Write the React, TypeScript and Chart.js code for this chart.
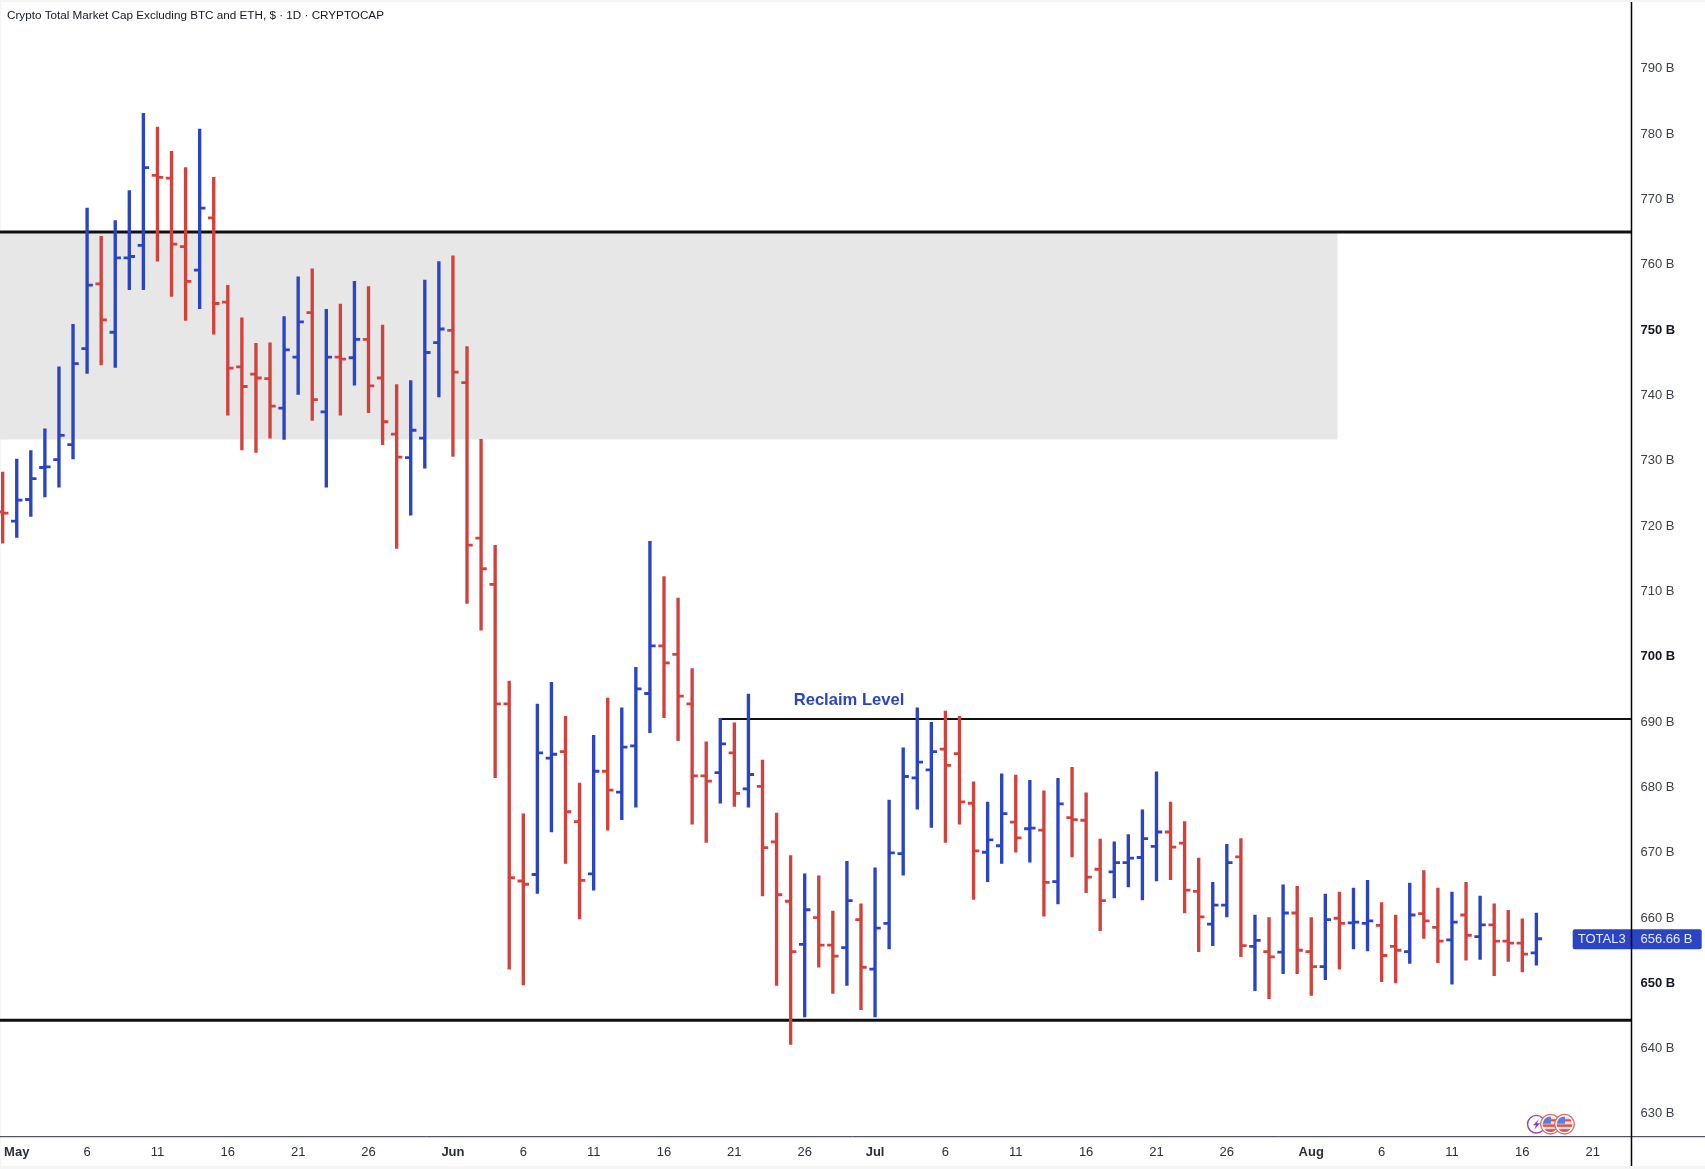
import React, { useEffect, useRef } from "react";
import { Chart, registerables } from "chart.js";

Chart.register(...registerables);

const chartTitle = "Crypto Total Market Cap Excluding BTC and ETH, $ · 1D · CRYPTOCAP";

// Daily bars, index 0 = 30 Apr, index 109 = 17 Aug
const opens = [
  722.0, 720.6, 723.9, 728.8, 730.0, 732.3, 747.0, 756.9, 749.5, 760.9,
  762.8, 773.5, 773.1, 762.6, 759.0, 767.0, 754.1, 744.2, 743.1, 742.4,
  737.9, 745.7, 752.5, 737.3, 745.7, 745.6, 748.4, 742.5, 733.9, 730.3,
  733.3, 747.9, 749.8, 741.8, 718.0, 710.9, 692.6, 665.5, 666.5, 684.3,
  685.3, 674.6, 666.6, 682.3, 679.1, 686.2, 694.2, 701.5, 700.2, 692.6,
  681.6, 682.1, 685.1, 679.6, 680.0, 671.5, 662.4, 655.8, 659.9, 655.7,
  655.3, 659.6, 652.0, 659.0, 669.7, 681.3, 682.5, 685.7, 685.0, 677.4,
  669.9, 670.9, 674.5, 673.5, 673.3, 665.4, 675.2, 674.8, 667.3, 666.9,
  668.3, 669.1, 670.8, 673.0, 671.3, 663.9, 658.9, 661.8, 669.2, 655.5,
  654.7, 654.6, 660.6, 654.7, 652.4, 659.8, 659.1, 659.0, 658.7, 655.5,
  654.7, 660.5, 658.4, 656.5, 660.3, 657.0, 658.8, 656.3, 656.0, 654.5,
];
const highs = [
  728.1, 730.1, 731.4, 734.7, 744.2, 750.7, 768.5, 764.2, 766.6, 771.2,
  783.0, 780.9, 777.2, 774.7, 780.6, 773.2, 756.7, 751.7, 747.8, 747.9,
  751.9, 758.0, 759.2, 753.0, 753.8, 757.3, 756.5, 750.6, 741.5, 742.1,
  757.5, 760.3, 761.2, 747.3, 733.1, 716.9, 696.1, 675.8, 692.6, 695.9,
  690.7, 680.5, 687.8, 693.5, 692.0, 698.2, 717.5, 712.1, 708.8, 698.0,
  686.8, 690.4, 689.7, 694.1, 684.0, 675.9, 669.4, 666.6, 666.3, 660.9,
  668.5, 662.0, 667.5, 677.9, 685.9, 692.0, 689.8, 691.5, 690.7, 680.7,
  677.6, 681.9, 681.7, 680.9, 679.3, 681.2, 682.9, 679.0, 671.9, 671.5,
  672.6, 676.4, 682.2, 677.6, 674.6, 669.0, 665.3, 671.1, 672.0, 660.3,
  659.9, 664.9, 664.7, 659.9, 663.5, 663.8, 664.4, 665.6, 662.2, 660.3,
  665.2, 667.1, 664.4, 663.8, 665.3, 663.2, 662.0, 661.0, 659.7, 660.6,
];
const lows = [
  717.2, 718.1, 721.3, 724.3, 725.8, 730.1, 743.2, 744.5, 744.1, 756.0,
  756.0, 760.4, 755.0, 751.3, 753.1, 749.2, 736.8, 731.5, 731.1, 733.3,
  733.1, 740.0, 736.0, 725.8, 736.8, 741.4, 737.2, 732.3, 716.4, 721.5,
  728.7, 739.6, 730.5, 708.0, 703.9, 681.3, 652.0, 649.6, 663.6, 673.0,
  668.2, 659.7, 664.1, 673.3, 674.9, 676.8, 688.2, 690.5, 687.0, 674.2,
  671.4, 677.4, 676.9, 676.8, 663.2, 649.5, 640.5, 644.7, 652.3, 648.3,
  649.5, 645.8, 644.7, 655.1, 666.4, 676.5, 673.7, 671.4, 674.2, 662.7,
  665.4, 668.2, 669.9, 668.4, 660.1, 662.0, 669.2, 663.7, 657.9, 662.9,
  664.6, 662.6, 665.5, 665.7, 660.6, 654.7, 655.6, 660.0, 653.9, 648.7,
  647.5, 651.3, 651.3, 648.0, 650.4, 652.0, 655.1, 654.8, 650.1, 649.9,
  652.9, 656.7, 653.0, 649.7, 653.4, 653.5, 651.0, 653.2, 651.6, 652.6,
];
const closes = [
  721.8, 723.8, 727.1, 728.9, 733.7, 744.7, 756.7, 751.4, 760.9, 761.1,
  774.7, 773.2, 763.0, 757.3, 768.5, 753.9, 744.0, 741.2, 742.5, 738.2,
  746.8, 751.1, 739.2, 745.7, 745.4, 748.4, 741.3, 735.8, 730.4, 734.5,
  746.4, 750.0, 743.4, 716.9, 713.3, 692.6, 666.0, 665.0, 685.1, 684.9,
  676.1, 665.6, 682.3, 679.4, 686.0, 694.9, 701.5, 698.9, 693.8, 681.6,
  680.8, 686.5, 678.9, 681.8, 670.6, 663.4, 654.7, 661.1, 655.7, 654.0,
  662.5, 652.3, 658.3, 669.8, 681.5, 683.7, 685.3, 683.2, 677.6, 670.1,
  671.8, 675.8, 672.1, 673.6, 665.3, 677.3, 674.9, 666.1, 662.5, 668.3,
  669.0, 672.0, 673.0, 670.7, 664.1, 660.0, 661.8, 668.3, 655.6, 656.4,
  653.9, 660.6, 654.9, 652.4, 659.6, 659.0, 659.2, 659.4, 654.1, 654.9,
  660.3, 659.4, 656.3, 659.2, 657.2, 658.8, 656.3, 656.0, 654.3, 656.66,
];

const yTickValues = [630, 640, 650, 660, 670, 680, 690, 700, 710, 720, 730, 740, 750, 760, 770, 780, 790];
const yBoldTicks = [650, 700, 750];
const xTickValues = [1, 6, 11, 16, 21, 26, 32, 37, 42, 47, 52, 57, 62, 67, 72, 77, 82, 87, 93, 98, 103, 108, 113];
const xTickLabels = ["May", "6", "11", "16", "21", "26", "Jun", "6", "11", "16", "21", "26", "Jul", "6", "11", "16", "21", "26", "Aug", "6", "11", "16", "21"];
const xBoldLabels = ["May", "Jun", "Jul", "Aug"];

const supplyTop = 764.85;
const supplyBottom = 733.1;
const supplyEndIndex = 94.88;
const floorLevel = 644.2;
const reclaimLevel = 690.3;
const reclaimStartIndex = 51;
const reclaimLabel = "Reclaim Level";
const reclaimLabelIndex = 60.15;
const lastPrice = 656.66;
const symbolLabel = "TOTAL3";
const eventIndexes = [109, 110, 111];

const xMin = -0.19;
const xMax = 115.76;
const yMin = 626.36;
const yMax = 800.36;

const BLUE = "#2A44C4";
const RED = "#D2423D";
const FONT = '"Liberation Sans", Arial, sans-serif';

const indexes = opens.map((_, i) => i);
const barColors = indexes.map((i) => (closes[i] >= opens[i] ? BLUE : RED));
const tickShift = 0.2;

const fmtPrice = (v: number) => `${v} B`;

const overlayPlugin = {
  id: "overlay",
  beforeDraw(chart: any) {
    const { ctx, width, height } = chart;
    ctx.save();
    ctx.fillStyle = "#F5F5F5";
    ctx.fillRect(0, 0, width, height);
    ctx.fillStyle = "#FFFFFF";
    ctx.fillRect(1, 2, width - 1, 1164);
    ctx.restore();
  },
  afterDraw(chart: any) {
    const { ctx, chartArea, scales } = chart;
    const x = scales.x;
    const y = scales.y;
    ctx.save();

    // axis frame
    ctx.strokeStyle = "#2A2E39";
    ctx.lineWidth = 1;
    ctx.beginPath();
    ctx.moveTo(0, chartArea.bottom);
    ctx.lineTo(chart.width, chartArea.bottom);
    ctx.stroke();

    // title
    ctx.fillStyle = "#131722";
    ctx.font = `11.7px ${FONT}`;
    ctx.textAlign = "left";
    ctx.textBaseline = "middle";
    ctx.fillText(chartTitle, 7, 16);

    // reclaim label
    ctx.fillStyle = "#2A44C4";
    ctx.font = `bold 16.6px ${FONT}`;
    ctx.textAlign = "center";
    ctx.fillText(reclaimLabel, x.getPixelForValue(reclaimLabelIndex), y.getPixelForValue(reclaimLevel) - 19);

    // events
    const ey = chartArea.bottom - 12.5;
    eventIndexes.forEach((idx, n) => {
      const ex = x.getPixelForValue(idx);
      if (n === 0) {
        ctx.beginPath();
        ctx.arc(ex, ey, 8.8, 0, Math.PI * 2);
        ctx.fillStyle = "#FFFFFF";
        ctx.fill();
        ctx.strokeStyle = "#8E3FC0";
        ctx.lineWidth = 1.4;
        ctx.stroke();
        ctx.fillStyle = "#8E3FC0";
        ctx.beginPath();
        ctx.moveTo(ex + 2.5, ey - 5);
        ctx.lineTo(ex - 3.5, ey + 1);
        ctx.lineTo(ex - 0.3, ey + 1);
        ctx.lineTo(ex - 2.2, ey + 5.5);
        ctx.lineTo(ex + 3.8, ey - 1);
        ctx.lineTo(ex + 0.6, ey - 1);
        ctx.closePath();
        ctx.fill();
      } else {
        ctx.save();
        ctx.beginPath();
        ctx.arc(ex, ey, 9.8, 0, Math.PI * 2);
        ctx.fillStyle = "#FFFFFF";
        ctx.fill();
        ctx.strokeStyle = "#DE6A64";
        ctx.lineWidth = 1.4;
        ctx.stroke();
        ctx.beginPath();
        ctx.arc(ex, ey, 7.8, 0, Math.PI * 2);
        ctx.clip();
        ctx.fillStyle = "#F7DAD6";
        ctx.fillRect(ex - 9, ey - 9, 18, 18);
        ctx.fillStyle = "#D9534D";
        ctx.fillRect(ex - 9, ey + 0.2, 18, 2.4);
        ctx.fillRect(ex - 9, ey + 5, 18, 2.8);
        ctx.fillRect(ex, ey - 5, 9, 2.2);
        ctx.fillStyle = "#5C7DDC";
        ctx.fillRect(ex - 9, ey - 8, 9.5, 7.5);
        ctx.restore();
      }
    });

    // last price label
    const py = y.getPixelForValue(lastPrice);
    ctx.fillStyle = "#2A44C4";
    ctx.beginPath();
    ctx.roundRect(1572.7, py - 9.5, 129, 20, 2);
    ctx.fill();

    // axis divider
    ctx.strokeStyle = "#000000";
    ctx.lineWidth = 1.5;
    ctx.beginPath();
    ctx.moveTo(chartArea.right, 2);
    ctx.lineTo(chartArea.right, 1166);
    ctx.stroke();

    ctx.fillStyle = "#E8ECFA";
    ctx.font = `13px ${FONT}`;
    ctx.textAlign = "left";
    ctx.textBaseline = "middle";
    ctx.fillText(symbolLabel, 1577.7, py + 1);
    ctx.fillText(fmtPrice(lastPrice), 1640.5, py + 1);
    ctx.restore();
  },
};

const clearPadding = (axis: any) => {
  axis.paddingLeft = 0;
  axis.paddingRight = 0;
  axis.paddingTop = 0;
  axis.paddingBottom = 0;
};

export default function App() {
  const ref = useRef<HTMLCanvasElement>(null);

  useEffect(() => {
    const chart = new Chart(ref.current as HTMLCanvasElement, {
      data: {
        datasets: [
          {
            type: "scatter",
            label: "Open",
            order: 1,
            data: indexes.map((i) => ({ x: i - tickShift, y: opens[i] })),
            pointStyle: "line",
            pointRadius: 2.9,
            pointBorderWidth: 2.8,
            pointBorderColor: barColors,
            pointBackgroundColor: barColors,
            showLine: false,
          },
          {
            type: "scatter",
            label: "Close",
            order: 1,
            data: indexes.map((i) => ({ x: i + tickShift, y: closes[i] })),
            pointStyle: "line",
            pointRadius: 2.9,
            pointBorderWidth: 2.8,
            pointBorderColor: barColors,
            pointBackgroundColor: barColors,
            showLine: false,
          },
          {
            type: "bar",
            label: "TOTAL3",
            order: 2,
            data: indexes.map((i) => ({ x: i, y: [lows[i], highs[i]] })),
            backgroundColor: barColors,
            borderWidth: 0,
            barThickness: 2.7,
          },
          {
            type: "line",
            label: "Top",
            order: 3,
            data: [{ x: xMin, y: supplyTop }, { x: xMax, y: supplyTop }],
            borderColor: "#111111",
            borderWidth: 3,
            pointRadius: 0,
            fill: false,
          },
          {
            type: "line",
            label: "Floor",
            order: 3,
            data: [{ x: xMin, y: floorLevel }, { x: xMax, y: floorLevel }],
            borderColor: "#111111",
            borderWidth: 3,
            pointRadius: 0,
            fill: false,
          },
          {
            type: "line",
            label: "Reclaim",
            order: 3,
            data: [{ x: reclaimStartIndex, y: reclaimLevel }, { x: xMax, y: reclaimLevel }],
            borderColor: "#111111",
            borderWidth: 2,
            pointRadius: 0,
            fill: false,
          },
          {
            type: "line",
            label: "Zone",
            order: 4,
            data: [{ x: xMin, y: supplyTop }, { x: supplyEndIndex, y: supplyTop }],
            borderWidth: 0,
            borderColor: "rgba(0,0,0,0)",
            backgroundColor: "#E7E7E7",
            pointRadius: 0,
            fill: { value: supplyBottom },
          },
        ],
      } as any,
      options: {
        responsive: false,
        animation: false,
        events: [],
        layout: { padding: 0, autoPadding: false },
        plugins: {
          legend: { display: false },
          title: { display: false },
          tooltip: { enabled: false },
        },
        scales: {
          x: {
            type: "linear",
            min: xMin,
            max: xMax,
            offset: false,
            grid: { display: false, drawTicks: false },
            border: { display: false },
            afterBuildTicks: (axis: any) => {
              axis.ticks = xTickValues.map((value) => ({ value }));
            },
            afterFit: (axis: any) => {
              axis.height = 32.3;
              clearPadding(axis);
            },
            ticks: {
              autoSkip: false,
              maxRotation: 0,
              padding: 7.5,
              color: "#2A2E39",
              callback: (value: number) => xTickLabels[xTickValues.indexOf(value)],
              font: (ctx: any) => {
                const label = xTickLabels[xTickValues.indexOf(ctx.tick?.value)];
                return {
                  family: FONT,
                  size: 13,
                  weight: xBoldLabels.includes(label) ? "bold" : "normal",
                };
              },
            },
          },
          y: {
            type: "linear",
            position: "right",
            min: yMin,
            max: yMax,
            grid: { display: false, drawTicks: false },
            border: { display: false },
            afterBuildTicks: (axis: any) => {
              axis.ticks = yTickValues.map((value) => ({ value }));
            },
            afterFit: (axis: any) => {
              axis.width = 73.5;
              clearPadding(axis);
            },
            ticks: {
              autoSkip: false,
              padding: 9,
              labelOffset: 1,
              color: (ctx: any) => (yBoldTicks.includes(ctx.tick?.value) ? "#131722" : "#3A3E49"),
              callback: (value: number) => fmtPrice(value),
              font: (ctx: any) => ({
                family: FONT,
                size: 13,
                weight: yBoldTicks.includes(ctx.tick?.value) ? "bold" : "normal",
              }),
            },
          },
        },
      } as any,
      plugins: [overlayPlugin],
    });
    return () => chart.destroy();
  }, []);

  return (
    <div style={{ width: 1705, height: 1169 }}>
      <style>{"html,body{margin:0;padding:0;background:#fff}"}</style>
      <canvas ref={ref} width={1705} height={1169} style={{ display: "block" }} />
    </div>
  );
}
